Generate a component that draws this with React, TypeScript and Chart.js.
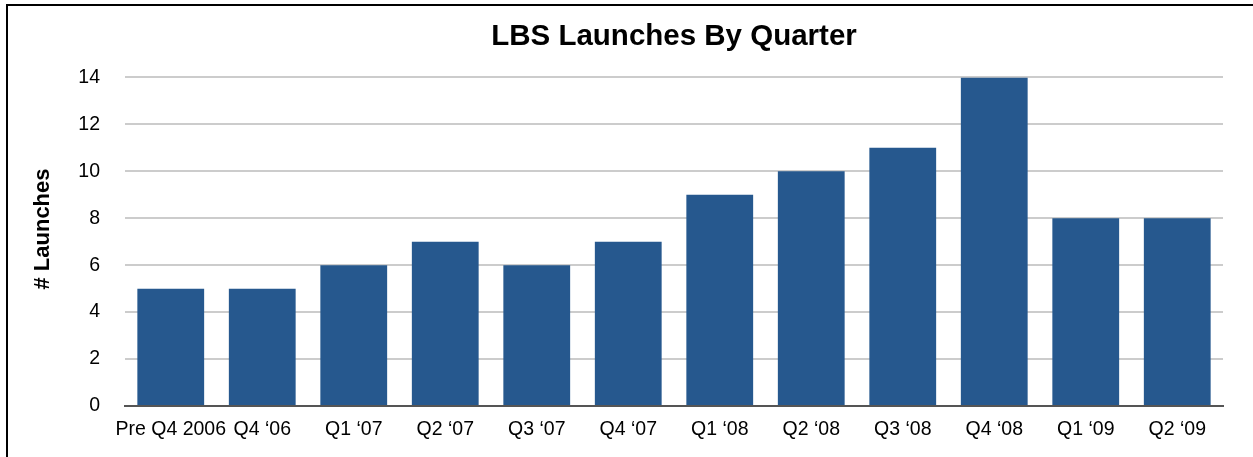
import React, { useEffect, useRef } from "react";
import { Chart, registerables } from "chart.js";

Chart.register(...registerables);

const categories = [
  "Pre Q4 2006",
  "Q4 \u201806",
  "Q1 \u201807",
  "Q2 \u201807",
  "Q3 \u201807",
  "Q4 \u201807",
  "Q1 \u201808",
  "Q2 \u201808",
  "Q3 \u201808",
  "Q4 \u201808",
  "Q1 \u201809",
  "Q2 \u201809",
];
const launches = [5, 5, 6, 7, 6, 7, 9, 10, 11, 14, 8, 8];
const yTicks = [0, 2, 4, 6, 8, 10, 12, 14];
const yAxisTitle = "# Launches";

const FONT = "'Liberation Sans', Arial, Helvetica, sans-serif";

const yTitlePlugin = {
  id: "yTitlePlugin",
  afterDraw(chart: any) {
    const ctx = chart.ctx;
    ctx.save();
    ctx.translate(43, 229);
    ctx.rotate(-Math.PI / 2);
    ctx.font = `bold 22px ${FONT}`;
    ctx.fillStyle = "#000";
    ctx.textAlign = "center";
    ctx.textBaseline = "middle";
    ctx.fillText(yAxisTitle, 0, 0);
    ctx.restore();
  },
};

export default function App() {
  const ref = useRef<HTMLCanvasElement | null>(null);

  useEffect(() => {
    document.body.style.margin = "0";
    const canvas = ref.current;
    if (!canvas) return;
    const chart = new Chart(canvas, {
      type: "bar",
      data: {
        labels: categories,
        datasets: [
          {
            label: "# Launches",
            data: launches,
            backgroundColor: "#26588e",
            borderWidth: 0,
            categoryPercentage: 1,
            barPercentage: 0.73,
          },
        ],
      },
      plugins: [yTitlePlugin],
      options: {
        responsive: false,
        animation: false,
        layout: { padding: { left: 0, right: 30, top: 0, bottom: 0 } },
        plugins: {
          legend: { display: false },
          tooltip: { enabled: false },
          title: {
            display: true,
            fullSize: false,
            text: "LBS Launches By Quarter",
            color: "#000",
            font: { family: FONT, size: 29.5, weight: "bold" },
            padding: { top: 19, bottom: 23 },
          },
        },
        scales: {
          x: {
            grid: { display: false, drawTicks: false },
            border: { display: true, color: "#555555", width: 2 },
            ticks: {
              color: "#000",
              font: { family: FONT, size: 19.5 },
              padding: 12,
              maxRotation: 0,
              autoSkip: false,
            },
            afterFit: (scale: any) => {
              scale.height = 51;
            },
          },
          y: {
            min: 0,
            max: 14,
            afterBuildTicks: (scale: any) => {
              scale.ticks = yTicks.map((v) => ({ value: v }));
            },
            grid: { color: "#cccccc", lineWidth: 2, drawTicks: false },
            border: { display: false },
            ticks: {
              color: "#000",
              font: { family: FONT, size: 19.5 },
              padding: 25,
            },
            afterFit: (scale: any) => {
              scale.width = 125;
            },
          },
        },
      },
    });
    return () => chart.destroy();
  }, []);

  return (
    <div style={{ position: "absolute", left: 0, top: 0, width: 1253, height: 457, background: "#fff", overflow: "hidden" }}>
      <canvas ref={ref} width={1253} height={457} style={{ position: "absolute", left: 0, top: 0 }} />
      <div
        style={{
          position: "absolute",
          left: 6,
          top: 4,
          width: 1260,
          height: 500,
          borderLeft: "2px solid #000",
          borderTop: "2px solid #000",
          boxSizing: "border-box",
          pointerEvents: "none",
        }}
      />
    </div>
  );
}
